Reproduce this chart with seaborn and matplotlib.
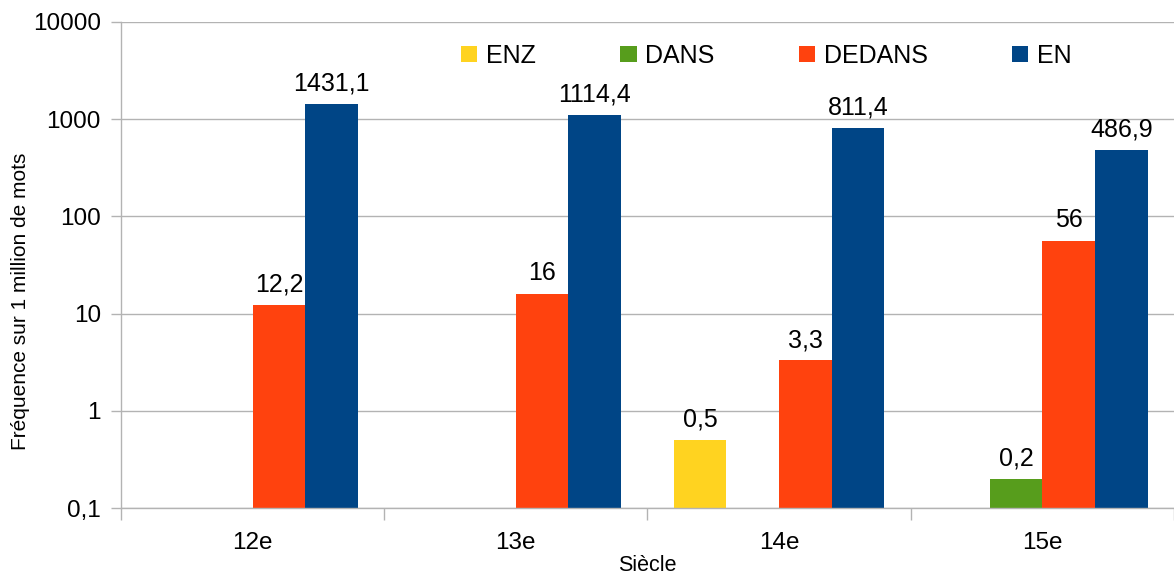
import numpy as np
import pandas as pd
import seaborn as sns
import matplotlib.pyplot as plt
from matplotlib.patches import Patch
from matplotlib.ticker import FixedLocator, NullFormatter

siecles = ["12e", "13e", "14e", "15e"]
formes = ["ENZ", "DANS", "DEDANS", "EN"]
enz = [np.nan, np.nan, 0.5, np.nan]
dans = [np.nan, np.nan, np.nan, 0.2]
dedans = [12.2, 16, 3.3, 56]
en = [1431.1, 1114.4, 811.4, 486.9]
couleurs = ["#FFD320", "#579D1C", "#FF420E", "#004586"]
yticks = [0.1, 1, 10, 100, 1000, 10000]
ytick_labels = ["0,1", "1", "10", "100", "1000", "10000"]

rows = []
for forme, vals in zip(formes, [enz, dans, dedans, en]):
    for s, v in zip(siecles, vals):
        rows.append({"Siècle": s, "Forme": forme, "freq": v})
df = pd.DataFrame(rows)

sns.set_style("white")
plt.rcParams["font.family"] = ["Liberation Sans", "DejaVu Sans"]
plt.rcParams["text.color"] = "black"
plt.rcParams["axes.labelcolor"] = "black"
plt.rcParams["xtick.color"] = "black"
plt.rcParams["ytick.color"] = "black"

fig = plt.figure(figsize=(11.74, 5.76), dpi=100)
ax = fig.add_axes([0.103, 0.118, 0.897, 0.844])

sns.barplot(data=df, x="Siècle", y="freq", hue="Forme", hue_order=formes,
            palette=couleurs, width=0.8, saturation=1, ax=ax, legend=False,
            linewidth=0)
ax.set_yscale("log")
ax.set_ylim(0.1, 10000)
ax.set_xlim(-0.5, 3.5)

ax.yaxis.set_major_locator(FixedLocator(yticks))
ax.set_yticklabels(ytick_labels)
ax.yaxis.set_minor_formatter(NullFormatter())
ax.yaxis.set_minor_locator(FixedLocator([]))
ax.grid(axis="y", color="#b3b3b3", linewidth=1)
ax.set_axisbelow(True)

# separators between the centuries
ax.set_xticks([-0.5, 0.5, 1.5, 2.5, 3.5], minor=True)
ax.tick_params(axis="x", which="major", bottom=True, length=0, labelsize=17.5, pad=17)
ax.tick_params(axis="x", which="minor", bottom=True, length=8.6, color="#b3b3b3", width=1)
ax.tick_params(axis="y", which="major", left=True, length=7.5, color="#b3b3b3", width=1,
               labelsize=17.5, pad=7, labelcolor="black")

for side in ["top", "right"]:
    ax.spines[side].set_visible(False)
for side in ["left", "bottom"]:
    ax.spines[side].set_color("#b3b3b3")
    ax.spines[side].set_linewidth(1)

# value labels with french decimal comma, skip empty bars
for cont in ax.containers:
    labels = []
    for bar in cont:
        h = bar.get_height()
        if np.isnan(h) or h <= 0:
            labels.append("")
        else:
            labels.append(f"{h:g}".replace(".", ","))
    ax.bar_label(cont, labels=labels, padding=6, fontsize=18)

ax.set_xlabel("Siècle", fontsize=15.5, labelpad=1)
ax.set_ylabel("Fréquence sur 1 million de mots", fontsize=15, va="center")
ax.yaxis.set_label_coords(-0.095, 0.425)

handles = [Patch(facecolor=c, edgecolor="none") for c in couleurs]
ax.legend(handles, formes, loc="center", bbox_to_anchor=(0.613, 0.93), ncol=4,
          frameon=False, fontsize=18, handlelength=0.65, handleheight=0.65,
          handletextpad=0.35, columnspacing=3.37)

fig.savefig("out.png", dpi=100)
